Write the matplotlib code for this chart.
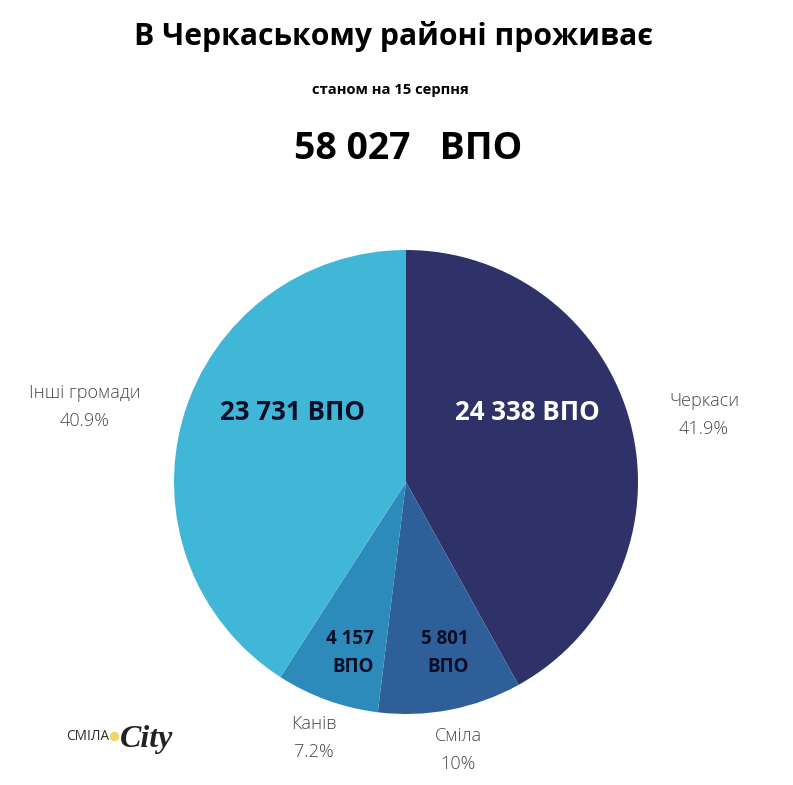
import matplotlib

matplotlib.use("Agg")
import matplotlib.pyplot as plt

plt.rcParams["font.family"] = ["Open Sans", "DejaVu Sans"]

TITLE = "В Черкаському районі проживає"
SUBTITLE = "станом на 15 серпня"
TOTAL = "58 027   ВПО"

names = ["Черкаси", "Сміла", "Канів", "Інші громади"]
values = [24338, 5801, 4157, 23731]
percents = ["41.9%", "10%", "7.2%", "40.9%"]
inner_labels = ["24 338 ВПО", "5 801\nВПО", "4 157\nВПО", "23 731 ВПО"]
colors = ["#2f3268", "#2e5f98", "#2c8bba", "#40b7d6"]
inner_colors = ["white", "#0a0d28", "#0a0d28", "#0a0d28"]

W, H = 793, 785
fig = plt.figure(figsize=(W / 100, H / 100), dpi=100)

# pie centred at 406,482 with radius 232
ax = fig.add_axes([(406 - 240) / W, 1 - (482 + 240) / H, 480 / W, 480 / H])
ax.pie(values, colors=colors, startangle=90, counterclock=False, radius=232)
ax.set_xlim(-240, 240)
ax.set_ylim(-240, 240)
ax.axis("off")

# overlay in pixel coordinates for the text
over = fig.add_axes([0, 0, 1, 1], zorder=5)
over.set_xlim(0, W)
over.set_ylim(H, 0)
over.axis("off")

over.text(394, 36, TITLE, ha="center", va="center", fontsize=21.7, fontweight="bold", color="black")
over.text(390, 90, SUBTITLE, ha="center", va="center", fontsize=10.6, fontweight="bold", color="black")
over.text(408, 149, TOTAL, ha="center", va="center", fontsize=26.9, fontweight="bold", color="black")

# big labels centred, the two small ones right aligned like the original
over.text(527, 413, inner_labels[0], ha="center", va="center", fontsize=18.6, fontweight="bold", color=inner_colors[0])
over.text(293, 412, inner_labels[3], ha="center", va="center", fontsize=18.6, fontweight="bold", color=inner_colors[3])
over.text(469, 653, inner_labels[1], ha="right", va="center", ma="right", fontsize=13.5, fontweight="bold",
          color=inner_colors[1], linespacing=1.55)
over.text(374, 653, inner_labels[2], ha="right", va="center", ma="right", fontsize=13.5, fontweight="bold",
          color=inner_colors[2], linespacing=1.55)

outer_pos = [(704, 415), (458, 750), (314, 738), (85, 407)]
for (x, y), n, p in zip(outer_pos, names, percents):
    over.text(x, y, f"{n}\n{p}", ha="center", va="center", fontsize=13.1, fontweight="light",
              color="#484848", linespacing=1.65)

# logo
over.text(87.5, 736, "СМІЛА", ha="center", va="center", fontsize=9.8, fontweight="normal", color="#2a2a2a")
over.scatter([114], [736], s=34, color="#efd766")
over.text(147, 739, "City", ha="center", va="center", fontsize=23, fontweight="bold", style="italic",
          family="Liberation Serif", color="#222222")

fig.savefig("out.png", dpi=100)
